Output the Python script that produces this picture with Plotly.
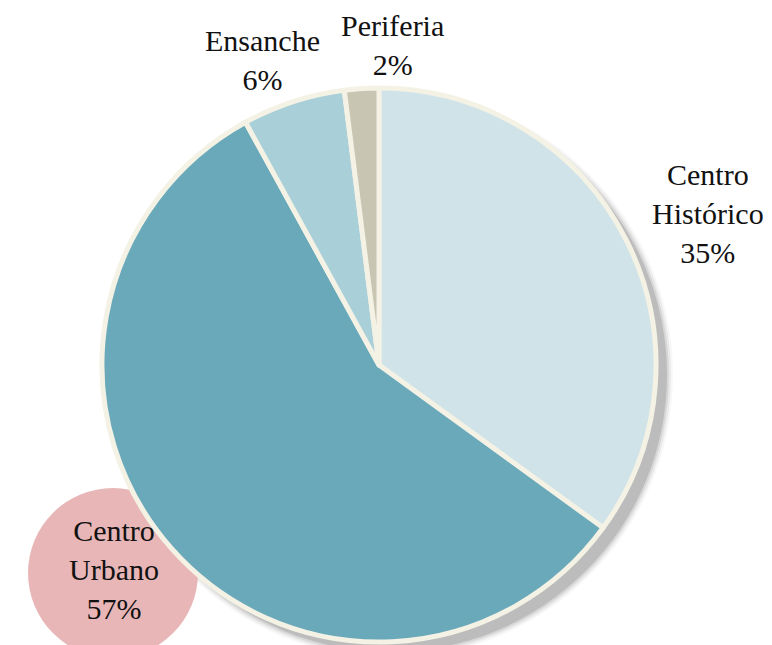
import plotly.graph_objects as go

W, H = 772, 645

labels = ["Centro Histórico", "Centro Urbano", "Ensanche", "Periferia"]
label_lines = [["Centro", "Histórico"], ["Centro", "Urbano"], ["Ensanche"], ["Periferia"]]
values = [35, 57, 6, 2]
colors = ["#cfe3e8", "#6aa9ba", "#a9cfd9", "#c8c5b2"]

# label centre positions (pixels) for annotations
label_pos = [(700, 206), (106, 561), (254, 52), (384, 37)]

cx, cy, r = 378, 364, 277
# small correction for plotly's internal pie placement
dx, dy = -7, -7

fig = go.Figure()
fig.add_trace(go.Pie(
    labels=labels, values=values, sort=False, direction="clockwise", rotation=0,
    marker=dict(colors=colors, line=dict(color="#f4f1e5", width=5)),
    textinfo="none", hoverinfo="label+percent", showlegend=False,
    domain=dict(x=[(cx + dx - r) / W, (cx + dx + r) / W],
                y=[(H - cy - dy - r) / H, (H - cy - dy + r) / H]),
))

def circ(x, y, rad, color, opacity=1.0):
    return dict(type="circle", xref="paper", yref="paper",
                x0=(x - rad) / W, x1=(x + rad) / W,
                y0=(H - y - rad) / H, y1=(H - y + rad) / H,
                fillcolor=color, line=dict(width=0), opacity=opacity, layer="below")

shapes = []
# soft shadow
for dr, op in [(6, 0.03), (4, 0.05), (2, 0.08), (0, 0.12)]:
    shapes.append(circ(cx + 4, cy + 3, r + dr, "#000000", op))
# pink highlight circle behind Centro Urbano label
shapes.append(circ(105, 565, 85, "#e8b6b6"))

annotations = []
total = sum(values)
for lines, v, (x, y) in zip(label_lines, values, label_pos):
    txt = "<br>".join(lines + [f"{round(100 * v / total)}%"])
    annotations.append(dict(
        x=x / W, y=(H - y) / H, xref="paper", yref="paper", text=txt,
        showarrow=False, xanchor="center", yanchor="middle", align="center",
        font=dict(family="Liberation Serif", size=30, color="#111111"),
    ))

fig.update_layout(
    width=W, height=H, margin=dict(l=0, r=0, t=0, b=0),
    paper_bgcolor="white", plot_bgcolor="white",
    shapes=shapes, annotations=annotations,
)

fig.write_html("out.html")
